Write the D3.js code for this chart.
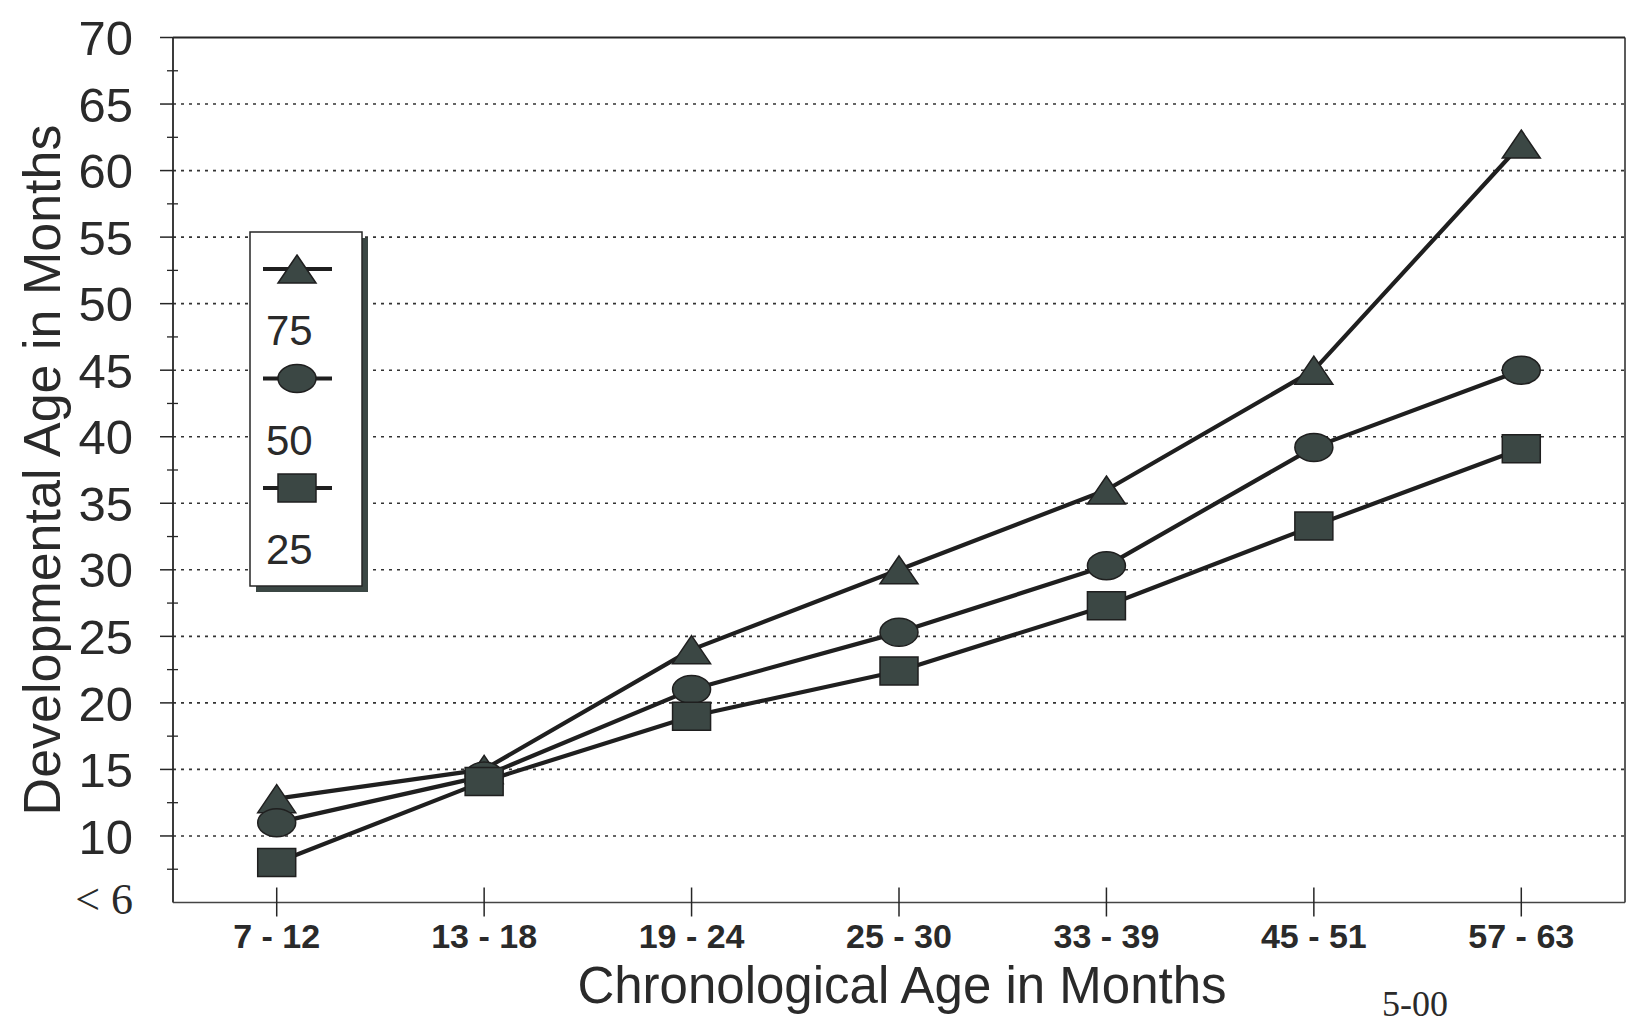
<!DOCTYPE html>
<html>
<head>
<meta charset="utf-8">
<script src="https://cdn.jsdelivr.net/npm/d3@7/dist/d3.min.js"></script>
<style>
  html, body { margin: 0; padding: 0; background: #fff; }
  svg { display: block; }
</style>
</head>
<body>
<div id="chart"></div>
<script>
// categories (chronological age bands) and the three percentile series
const ageBands = ["7 - 12", "13 - 18", "19 - 24", "25 - 30", "33 - 39", "45 - 51", "57 - 63"];
const p75 = [12.8, 15, 24, 30, 36, 45, 62];
const p50 = [11, 14.5, 21, 25.3, 30.3, 39.2, 45];
const p25 = [8, 14.1, 19, 22.4, 27.3, 33.3, 39.1];
const seriesNames = ["75", "50", "25"];
const seriesShapes = ["triangle", "circle", "square"];
const yTickValues = [5, 10, 15, 20, 25, 30, 35, 40, 45, 50, 55, 60, 65, 70];
const yTickLabels = ["< 6", "10", "15", "20", "25", "30", "35", "40", "45", "50", "55", "60", "65", "70"];
const yMinorTicks = [7.5, 12.5, 17.5, 22.5, 27.5, 32.5, 37.5, 42.5, 47.5, 52.5, 57.5, 62.5, 67.5];

const width = 1627, height = 1029;
const plotL = 173, plotR = 1625, plotT = 37.5, plotB = 902.5;
const ink = "#262626", fillC = "#3b4744";

const svg = d3.select("#chart").append("svg")
    .attr("width", width)
    .attr("height", height);

const x = d3.scalePoint().domain(ageBands).range([plotL, plotR]).padding(0.5);
const y = d3.scaleLinear().domain([5, 70]).range([plotB, plotT]);

// marker path builder (markers are wider than tall, like the scan)
function markerPath(shape, cx, cy) {
    const w = 38, h = 28;
    if (shape === "square") {
        return `M${cx - w/2},${cy - h/2}h${w}v${h}h${-w}Z`;
    }
    if (shape === "triangle") {
        return `M${cx},${cy - h/2}L${cx + w/2},${cy + h/2}L${cx - w/2},${cy + h/2}Z`;
    }
    const rx = w/2, ry = h/2;
    return `M${cx - rx},${cy}a${rx},${ry} 0 1,0 ${2*rx},0a${rx},${ry} 0 1,0 ${-2*rx},0Z`;
}

// dotted gridlines
svg.append("g").selectAll("line")
    .data(yTickValues.filter(v => v > 5 && v < 70))
    .join("line")
    .attr("x1", plotL).attr("x2", plotR)
    .attr("y1", d => y(d)).attr("y2", d => y(d))
    .attr("stroke", "#333")
    .attr("stroke-width", 1.6)
    .attr("stroke-dasharray", "3,5");

// major ticks (left side) and minor ticks (crossing axis)
svg.append("g").selectAll("line")
    .data(yTickValues.filter(v => v > 5))
    .join("line")
    .attr("x1", plotL - 13).attr("x2", plotL)
    .attr("y1", d => y(d)).attr("y2", d => y(d))
    .attr("stroke", ink).attr("stroke-width", 1.5);

svg.append("g").selectAll("line")
    .data(yMinorTicks)
    .join("line")
    .attr("x1", plotL - 6).attr("x2", plotL + 5)
    .attr("y1", d => y(d)).attr("y2", d => y(d))
    .attr("stroke", ink).attr("stroke-width", 1.3);

// plot frame
svg.append("line").attr("x1", plotL).attr("x2", plotL).attr("y1", plotT).attr("y2", plotB)
    .attr("stroke", ink).attr("stroke-width", 1.8);
svg.append("line").attr("x1", plotL).attr("x2", plotR).attr("y1", plotT).attr("y2", plotT)
    .attr("stroke", ink).attr("stroke-width", 1.8);
svg.append("line").attr("x1", plotR).attr("x2", plotR).attr("y1", plotT).attr("y2", plotB)
    .attr("stroke", ink).attr("stroke-width", 1.5);
svg.append("line").attr("x1", plotL).attr("x2", plotR).attr("y1", plotB).attr("y2", plotB)
    .attr("stroke", "#444").attr("stroke-width", 1.5);

// x ticks
svg.append("g").selectAll("line")
    .data(ageBands)
    .join("line")
    .attr("x1", d => x(d)).attr("x2", d => x(d))
    .attr("y1", plotB - 15).attr("y2", plotB + 14)
    .attr("stroke", ink).attr("stroke-width", 1.5);

// x tick labels
svg.append("g").selectAll("text")
    .data(ageBands)
    .join("text")
    .attr("x", d => x(d))
    .attr("y", 948)
    .attr("text-anchor", "middle")
    .style("font-family", "'Liberation Sans', Arial, sans-serif")
    .style("font-weight", "bold")
    .style("font-size", "34px")
    .style("fill", "#2a2a2a")
    .text(d => d);

// y tick labels
svg.append("g").selectAll("text")
    .data(yTickValues)
    .join("text")
    .attr("x", 133)
    .attr("y", d => y(d))
    .attr("dy", (d, i) => i === 0 ? "0.25em" : "0.36em")
    .attr("text-anchor", "end")
    .style("font-family", (d, i) => i === 0 ? "'Liberation Serif', 'Times New Roman', serif" : "'Liberation Sans', Arial, sans-serif")
    .style("font-size", (d, i) => i === 0 ? "44px" : "49px")
    .style("fill", "#2a2a2a")
    .text((d, i) => yTickLabels[i]);

// axis titles
svg.append("text")
    .attr("transform", "translate(60,470) rotate(-90)")
    .attr("text-anchor", "middle")
    .style("font-family", "'Liberation Sans', Arial, sans-serif")
    .style("font-size", "52px")
    .style("fill", "#2a2a2a")
    .text("Developmental Age in Months");

svg.append("text")
    .attr("x", 902)
    .attr("y", 1003)
    .attr("text-anchor", "middle")
    .style("font-family", "'Liberation Sans', Arial, sans-serif")
    .style("font-size", "51px")
    .style("fill", "#2a2a2a")
    .text("Chronological Age in Months");

svg.append("text")
    .attr("x", 1382)
    .attr("y", 1016)
    .style("font-family", "'Liberation Serif', 'Times New Roman', serif")
    .style("font-size", "36px")
    .style("fill", "#2a2a2a")
    .text("5-00");

// series: line then markers
const allSeries = [p75, p50, p25];
const line = d3.line().x((d, i) => x(ageBands[i])).y(d => y(d));

allSeries.forEach(function (vals, s) {
    svg.append("path")
        .datum(vals)
        .attr("d", line)
        .attr("fill", "none")
        .attr("stroke", "#1f1f1f")
        .attr("stroke-width", 4.2)
        .attr("stroke-linejoin", "round");

    svg.append("g").selectAll("path")
        .data(vals)
        .join("path")
        .attr("d", (d, i) => markerPath(seriesShapes[s], x(ageBands[i]), y(d)))
        .attr("fill", fillC)
        .attr("stroke", "#1f1f1f")
        .attr("stroke-width", 1.5);
});

// legend
const legend = svg.append("g");
legend.append("rect")
    .attr("x", 256).attr("y", 238).attr("width", 112).attr("height", 354)
    .attr("fill", fillC);
legend.append("rect")
    .attr("x", 250).attr("y", 232).attr("width", 112).attr("height", 354)
    .attr("fill", "#fff").attr("stroke", ink).attr("stroke-width", 1.5);

seriesNames.forEach(function (name, i) {
    const cy = 269 + i * 109.5;
    legend.append("line")
        .attr("x1", 263).attr("x2", 332).attr("y1", cy).attr("y2", cy)
        .attr("stroke", "#1f1f1f").attr("stroke-width", 4.2);
    legend.append("path")
        .attr("d", markerPath(seriesShapes[i], 297, cy))
        .attr("fill", fillC).attr("stroke", "#1f1f1f").attr("stroke-width", 1.5);
    legend.append("text")
        .attr("x", 266).attr("y", cy + 76)
        .style("font-family", "'Liberation Sans', Arial, sans-serif")
        .style("font-size", "42px")
        .style("fill", "#2a2a2a")
        .text(name);
});
</script>
</body>
</html>
